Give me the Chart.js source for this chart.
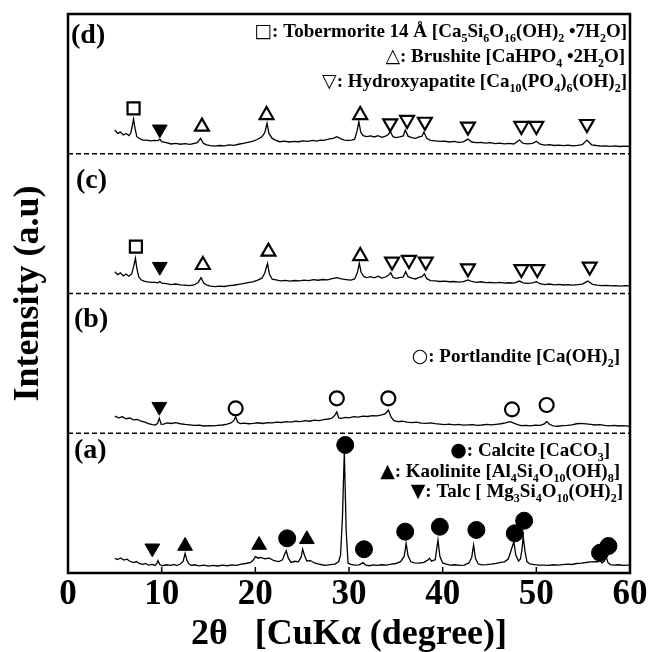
<!DOCTYPE html>
<html>
<head>
<meta charset="utf-8">
<script src="https://cdn.jsdelivr.net/npm/chart.js@4.4.1/dist/chart.umd.min.js"></script>
<style>
html, body { margin: 0; padding: 0; background: #fff; }
#wrap { width: 649px; height: 652px; }
</style>
</head>
<body>
<div id="wrap"><canvas id="xrd" width="649" height="652"></canvas></div>
<script>
// x axis ticks (2θ)
const xTicks = [0, 10, 20, 30, 40, 50, 60];
const panelNames = ['(a)', '(b)', '(c)', '(d)'];
const panelBase = [0, 100, 200, 300];   // each pattern is stacked 100 units above the previous
const separators = [100, 200, 300];

// patterns: [2θ, intensity inside its panel]
const traceA = [
  [5.0,10.5],[5.3,9.6],[5.6,10.8],[6.0,9.3],[6.3,9.9],[6.6,8.4],[7.0,7.4],[7.3,8.2],[7.6,6.8],[8.0,6.2],
  [8.3,6.9],[8.6,5.6],[9.0,6.1],[9.3,5.4],[9.5,7.0],[9.6,8.8],[9.8,6.0],[10.1,5.2],[10.5,5.9],[11.0,5.5],
  [11.3,6.2],[11.6,5.3],[12.0,6.4],[12.3,8.5],[12.5,14.1],[12.7,9.0],[12.9,6.6],[13.2,5.4],[13.5,5.9],[14.0,5.1],
  [14.5,5.6],[15.0,4.9],[15.5,5.4],[16.0,5.0],[16.5,5.6],[17.0,5.2],[17.5,5.8],[18.0,5.4],[18.5,6.3],[19.0,6.8],
  [19.5,7.6],[19.8,9.5],[20.0,11.7],[20.3,10.6],[20.6,11.2],[21.0,10.2],[21.5,10.6],[22.0,8.8],[22.5,8.2],[22.9,9.4],
  [23.1,13.0],[23.3,16.0],[23.5,11.0],[23.8,7.6],[24.2,8.4],[24.6,8.0],[24.9,11.5],[25.05,17.0],[25.25,12.5],[25.5,8.6],
  [25.9,8.9],[26.3,7.2],[26.7,6.5],[27.1,5.9],[27.5,5.5],[28.0,6.0],[28.5,6.4],[28.9,8.2],[29.1,12.9],[29.3,40.0],
  [29.5,86.8],[29.7,30.0],[29.9,7.0],[30.2,6.2],[30.6,5.6],[31.1,5.8],[31.5,7.4],[31.8,5.6],[32.2,5.2],[32.6,5.8],
  [33.0,5.4],[33.5,5.9],[34.0,5.6],[34.5,6.4],[35.0,6.8],[35.5,8.1],[35.9,12.0],[36.1,21.2],[36.3,12.5],[36.6,8.0],
  [37.0,7.2],[37.5,7.0],[38.0,7.6],[38.4,9.2],[38.6,10.5],[38.8,8.4],[39.2,9.5],[39.5,23.6],[39.7,12.0],[40.0,7.2],
  [40.4,6.3],[40.8,5.6],[41.3,5.9],[41.8,5.4],[42.3,5.7],[42.8,7.2],[43.1,11.0],[43.3,20.0],[43.5,10.5],[43.8,6.4],
  [44.2,5.8],[44.7,6.0],[45.2,6.4],[45.7,6.9],[46.2,7.6],[46.6,8.0],[47.0,10.0],[47.2,14.0],[47.6,22.4],[47.8,13.0],
  [48.1,8.5],[48.3,10.0],[48.45,16.0],[48.6,26.0],[48.8,15.0],[49.0,8.2],[49.3,6.5],[49.8,6.0],[50.3,5.6],[50.8,5.7],
  [51.3,5.4],[51.8,5.9],[52.3,5.6],[52.8,6.0],[53.3,6.4],[53.8,6.1],[54.3,6.8],[54.8,7.0],[55.3,7.5],[55.8,7.9],
  [56.3,8.2],[56.6,8.0],[56.8,9.3],[57.0,7.2],[57.25,8.6],[57.45,11.7],[57.65,7.4],[57.9,6.0],[58.3,5.6],[58.8,5.9],
  [59.3,5.4],[59.8,5.7],[60.0,5.6]
];
const traceB = [
  [5.0,12.3],[5.4,11.0],[5.8,11.8],[6.2,10.4],[6.6,10.9],[7.0,9.6],[7.4,9.9],[7.8,8.6],[8.2,8.0],[8.6,6.9],
  [9.0,6.2],[9.3,5.9],[9.55,7.0],[9.75,10.7],[9.95,6.4],[10.2,6.6],[10.6,7.4],[11.0,7.0],[11.5,7.6],[12.0,6.8],
  [12.5,6.3],[13.0,6.0],[13.5,5.6],[14.0,5.8],[14.5,5.2],[15.0,5.5],[15.5,5.3],[16.0,5.6],[16.5,5.9],[17.0,6.6],
  [17.4,7.4],[17.7,9.0],[17.9,11.9],[18.1,8.0],[18.4,6.9],[18.8,7.3],[19.3,6.8],[19.8,7.1],[20.3,7.5],[20.8,7.0],
  [21.3,7.6],[21.8,7.4],[22.3,8.0],[22.8,7.7],[23.3,8.3],[23.8,8.0],[24.3,8.6],[24.8,8.3],[25.3,9.0],[25.8,8.6],
  [26.3,9.4],[26.8,9.1],[27.3,9.8],[27.8,10.2],[28.2,10.9],[28.5,13.0],[28.7,15.3],[28.9,11.0],[29.2,10.6],[29.6,11.4],
  [30.0,11.0],[30.5,11.9],[31.0,11.5],[31.5,12.2],[32.0,12.0],[32.5,12.6],[33.0,12.4],[33.5,13.1],[33.9,14.0],[34.2,16.6],
  [34.5,11.5],[34.8,9.0],[35.2,8.3],[35.7,8.6],[36.2,7.9],[36.7,7.6],[37.2,7.9],[37.7,7.2],[38.2,7.0],[38.7,7.4],
  [39.2,6.9],[39.7,6.6],[40.2,6.2],[40.7,6.5],[41.2,6.0],[41.7,6.3],[42.2,5.8],[42.7,6.0],[43.2,6.2],[43.7,5.7],
  [44.2,5.9],[44.7,6.3],[45.2,6.0],[45.7,6.4],[46.2,6.8],[46.7,7.4],[47.2,8.3],[47.6,7.2],[48.0,6.2],[48.4,5.4],
  [48.9,5.6],[49.4,5.3],[49.9,5.8],[50.4,5.6],[50.8,6.5],[51.1,8.3],[51.4,6.4],[51.8,5.3],[52.3,5.0],[52.8,5.4],
  [53.3,5.6],[53.8,6.0],[54.3,6.8],[54.8,7.1],[55.3,6.7],[55.8,6.3],[56.3,5.9],[56.8,6.2],[57.3,5.6],[57.8,5.3],
  [58.3,5.6],[58.8,5.2],[59.3,5.5],[59.8,5.1],[60.0,5.3]
];
const traceC = [
  [5.0,15.6],[5.3,13.5],[5.6,14.8],[5.9,12.6],[6.2,13.9],[6.5,12.4],[6.8,14.0],[7.0,19.0],[7.2,25.2],[7.35,18.0],
  [7.55,12.0],[7.8,9.8],[8.1,8.9],[8.5,8.3],[8.9,8.0],[9.3,7.9],[9.6,7.6],[9.8,8.6],[10.0,7.4],[10.5,7.0],
  [11.0,6.4],[11.5,6.8],[12.0,6.2],[12.5,6.0],[13.0,5.7],[13.5,6.3],[13.9,7.8],[14.2,11.3],[14.5,7.5],[14.8,6.1],
  [15.2,5.3],[15.7,4.9],[16.2,5.3],[16.7,5.0],[17.2,5.6],[17.7,5.9],[18.2,6.6],[18.7,7.0],[19.2,7.8],[19.7,8.3],
  [20.2,9.4],[20.7,11.0],[21.0,14.5],[21.3,21.6],[21.5,14.0],[21.8,10.2],[22.2,9.7],[22.7,9.0],[23.2,9.4],[23.7,8.8],
  [24.2,9.3],[24.7,9.1],[25.2,9.6],[25.7,9.2],[26.2,9.9],[26.7,9.5],[27.2,10.0],[27.7,9.7],[28.2,10.6],[28.7,11.3],
  [29.2,10.4],[29.7,10.0],[30.2,9.6],[30.6,10.4],[30.9,15.0],[31.1,21.6],[31.3,15.0],[31.6,12.0],[31.9,11.4],[32.3,12.0],
  [32.7,11.2],[33.1,12.4],[33.5,11.0],[33.9,11.8],[34.2,13.0],[34.45,14.9],[34.7,11.6],[35.0,10.8],[35.4,11.4],[35.8,11.8],
  [36.05,15.6],[36.3,12.0],[36.7,11.0],[37.1,10.4],[37.5,11.6],[37.8,12.0],[38.05,14.0],[38.3,10.6],[38.7,9.2],[39.2,9.0],
  [39.7,8.6],[40.2,8.8],[40.7,8.4],[41.2,8.6],[41.7,8.2],[42.2,8.5],[42.7,9.7],[43.1,8.6],[43.6,8.0],[44.1,8.4],
  [44.6,7.8],[45.1,8.0],[45.6,7.6],[46.1,7.9],[46.6,7.4],[47.1,7.7],[47.6,7.4],[48.2,8.9],[48.6,7.6],[49.1,7.3],
  [49.6,7.6],[50.0,8.5],[50.4,7.0],[50.9,6.4],[51.4,6.8],[51.9,6.2],[52.4,6.5],[52.9,6.1],[53.4,6.3],[53.9,6.0],
  [54.4,6.3],[54.9,6.7],[55.5,8.9],[56.0,6.6],[56.5,6.0],[57.0,5.6],[57.5,5.8],[58.0,5.4],[58.5,5.7],[59.0,5.3],
  [59.5,5.6],[60.0,5.4]
];
const traceD = [
  [5.0,17.0],[5.3,14.6],[5.6,15.5],[5.9,13.4],[6.2,14.5],[6.5,13.0],[6.7,14.8],[6.85,19.5],[7.0,24.9],[7.15,18.4],
  [7.35,12.2],[7.7,10.6],[8.0,9.8],[8.4,9.8],[8.8,9.2],[9.2,9.6],[9.6,9.4],[9.8,10.4],[10.0,8.6],[10.5,7.9],
  [11.0,7.0],[11.5,7.4],[12.0,6.8],[12.5,7.2],[13.0,6.7],[13.4,7.3],[13.8,7.9],[14.15,11.0],[14.45,7.5],[14.8,6.3],
  [15.2,5.8],[15.7,5.5],[16.2,5.9],[16.7,5.6],[17.2,6.3],[17.7,6.0],[18.2,6.8],[18.7,7.4],[19.2,8.2],[19.7,8.8],
  [20.2,10.2],[20.7,12.2],[21.0,15.0],[21.25,21.8],[21.45,14.5],[21.8,11.0],[22.2,9.6],[22.6,8.6],[23.1,9.0],[23.6,8.4],
  [24.1,8.9],[24.6,8.6],[25.1,9.2],[25.6,8.8],[26.1,9.5],[26.6,9.1],[26.9,9.8],[27.3,9.6],[27.8,10.4],[28.3,11.0],
  [28.7,12.2],[29.1,10.8],[29.5,9.8],[29.9,9.6],[30.3,9.8],[30.6,10.4],[30.85,16.0],[31.05,23.0],[31.25,15.5],[31.5,13.0],
  [31.9,12.2],[32.3,12.8],[32.7,12.0],[33.1,12.9],[33.5,11.8],[33.9,12.6],[34.2,13.8],[34.4,16.0],[34.7,12.2],[35.0,11.6],
  [35.4,12.1],[35.8,12.8],[36.0,17.0],[36.3,12.6],[36.7,11.5],[37.1,11.0],[37.5,12.0],[37.8,12.6],[38.0,15.5],[38.3,11.0],
  [38.7,9.6],[39.2,9.2],[39.7,8.8],[40.2,9.0],[40.7,8.4],[41.2,8.8],[41.7,8.1],[42.2,8.5],[42.7,10.5],[43.1,8.4],
  [43.6,7.9],[44.1,8.2],[44.6,7.6],[45.1,7.9],[45.6,7.3],[46.1,7.6],[46.6,7.1],[47.1,7.4],[47.6,7.0],[48.2,9.8],
  [48.6,7.4],[49.1,7.0],[49.6,7.4],[50.0,9.0],[50.4,6.8],[50.9,6.2],[51.4,6.5],[51.9,5.9],[52.4,6.2],[52.9,5.8],
  [53.4,6.1],[53.9,5.7],[54.4,6.0],[54.9,6.5],[55.4,9.8],[55.9,6.4],[56.4,5.9],[56.9,5.5],[57.4,5.7],[57.9,5.3],
  [58.4,5.6],[58.9,5.2],[59.4,5.5],[60.0,5.3]
];

// phase markers: [2θ, panel index (0=a .. 3=d), height inside panel]
const tobermoriteMarks = [[7.0,3,32.5],[7.25,2,33.5]];
const brushiteMarks = [[14.3,3,19.4],[21.2,3,27.7],[31.2,3,27.7],[14.4,2,20.4],[21.4,2,29.9],[31.2,2,26.8]];
const hapMarks = [
  [34.4,3,21.8],[36.2,3,24.2],[38.1,3,22.9],[42.7,3,19.4],[48.4,3,19.9],[50.0,3,19.9],[55.4,3,21.3],
  [34.6,2,22.8],[36.4,2,24.0],[38.2,2,22.8],[42.7,2,18.0],[48.4,2,17.5],[50.1,2,17.5],[55.7,2,19.2]
];
const portlanditeMarks = [[17.9,1,17.8],[28.7,1,25.0],[34.2,1,25.0],[47.4,1,17.1],[51.1,1,20.2]];
const talcMarks = [[9.8,3,17.5],[9.8,2,19.2],[9.75,1,19.0],[9.0,0,17.7]];
const kaoliniteMarks = [[12.5,0,19.3],[20.4,0,20.0],[25.5,0,24.1]];
const calciteMarks = [
  [23.4,0,24.8],[29.6,0,91.6],[31.6,0,17.0],[36.0,0,29.6],[39.7,0,33.1],
  [43.6,0,30.8],[47.7,0,28.4],[48.7,0,37.4],[56.8,0,14.5],[57.7,0,19.3]
];

const legendD = ['□: Tobermorite 14 Å [Ca_5Si_6O_16(OH)_2 •7H_2O]', '△: Brushite [CaHPO_4 •2H_2O]', '▽: Hydroxyapatite [Ca_10(PO_4)_6(OH)_2]'];
const legendB = ['○: Portlandite [Ca(OH)_2]'];
const legendA = ['●: Calcite [CaCO_3]', '▲: Kaolinite [Al_4Si_4O_10(OH)_8]', '▼: Talc [ Mg_3Si_4O_10(OH)_2]'];

const SERIF = '"Liberation Serif", "Times New Roman", serif';

function traceData(points, panel) {
    return points.map(p => ({x: p[0], y: panelBase[panel] + p[1]}));
}
function markData(marks) {
    return marks.map(m => ({x: m[0], y: panelBase[m[1]] + m[2]}));
}

function traceSet(points, panel) {
    return {
        data: traceData(points, panel), showLine: true, borderColor: '#000', borderWidth: 1.3,
        pointRadius: 0, tension: 0, order: 2
    };
}
function markSet(marks, style, filled, radius, rotation) {
    return {
        data: markData(marks), showLine: false, pointStyle: style, pointRadius: radius,
        pointRotation: rotation || 0, pointBorderColor: '#000', pointBorderWidth: filled ? 1 : 2.2,
        pointBackgroundColor: filled ? '#000' : '#fff', order: 0
    };
}

const datasets = [];
separators.forEach(v => {
    datasets.push({
        data: [{x: 0, y: v}, {x: 60, y: v}], showLine: true, borderColor: '#000',
        borderWidth: 1.5, borderDash: [5, 3], pointRadius: 0, order: 3
    });
});
[traceA, traceB, traceC, traceD].forEach((t, i) => datasets.push(traceSet(t, i)));
datasets.push(markSet(tobermoriteMarks, 'rect', false, 8.5));
datasets.push(markSet(brushiteMarks, 'triangle', false, 8));
datasets.push(markSet(hapMarks, 'triangle', false, 8, 180));
datasets.push(markSet(portlanditeMarks, 'circle', false, 7));
datasets.push(markSet(talcMarks, 'triangle', true, 8.5, 180));
datasets.push(markSet(kaoliniteMarks, 'triangle', true, 8.5));
datasets.push(markSet(calciteMarks, 'circle', true, 8.5));

// text with a leading symbol glyph and _n subscripts, right aligned
function drawFormula(ctx, str, right, baseline) {
    const parts = [{t: str[0], k: 'sym'}];
    str.slice(1).split(/(_\d+)/).forEach(s => {
        if (!s) return;
        if (s[0] === '_') parts.push({t: s.slice(1), k: 'sub'});
        else parts.push({t: s, k: 'txt'});
    });
    const fonts = {
        sym: 'bold 19px "DejaVu Sans"',
        txt: 'bold 19px ' + SERIF,
        sub: 'bold 12px ' + SERIF
    };
    let total = 0;
    parts.forEach(p => { ctx.font = fonts[p.k]; p.w = ctx.measureText(p.t).width; total += p.w; });
    let x = right - total;
    ctx.textAlign = 'left';
    ctx.textBaseline = 'alphabetic';
    parts.forEach(p => {
        ctx.font = fonts[p.k];
        ctx.fillText(p.t, x, baseline + (p.k === 'sub' ? 5 : 0));
        x += p.w;
    });
}

const decorPlugin = {
    id: 'decor',
    afterDraw(chart) {
        const {ctx, chartArea: a, scales: {x}} = chart;
        ctx.save();
        ctx.fillStyle = '#000';
        ctx.strokeStyle = '#000';

        // frame
        ctx.lineWidth = 2.5;
        ctx.strokeRect(a.left, a.top, a.right - a.left, a.bottom - a.top);

        // inner tick marks on the bottom edge
        ctx.lineWidth = 1.5;
        xTicks.slice(1, -1).forEach(v => {
            const px = x.getPixelForValue(v);
            ctx.beginPath();
            ctx.moveTo(px, a.bottom);
            ctx.lineTo(px, a.bottom - 6);
            ctx.stroke();
        });

        // panel labels
        ctx.font = 'bold 28px ' + SERIF;
        ctx.textAlign = 'left';
        ctx.textBaseline = 'alphabetic';
        const labelPos = [[74, 458], [74, 327], [76, 188], [71, 43]];
        panelNames.forEach((n, i) => ctx.fillText(n, labelPos[i][0], labelPos[i][1]));

        // phase legends
        drawFormula(ctx, legendD[0], 627, 37);
        drawFormula(ctx, legendD[1], 625, 62);
        drawFormula(ctx, legendD[2], 627, 87);
        drawFormula(ctx, legendB[0], 620, 362);
        drawFormula(ctx, legendA[0], 610, 456);
        drawFormula(ctx, legendA[1], 620, 477);
        drawFormula(ctx, legendA[2], 623, 497);

        // y axis title
        ctx.font = 'bold 36px ' + SERIF;
        ctx.textAlign = 'center';
        ctx.textBaseline = 'middle';
        ctx.translate(29, (a.top + a.bottom) / 2);
        ctx.rotate(-Math.PI / 2);
        ctx.fillText('Intensity (a.u)', 0, 0);
        ctx.restore();
    }
};

new Chart(document.getElementById('xrd'), {
    type: 'scatter',
    data: { datasets },
    plugins: [decorPlugin],
    options: {
        responsive: false,
        animation: false,
        events: [],
        layout: { padding: { left: 68, right: 19, top: 14, bottom: 0 } },
        plugins: { legend: { display: false }, tooltip: { enabled: false } },
        scales: {
            x: {
                type: 'linear', min: 0, max: 60, position: 'bottom',
                afterBuildTicks: axis => { axis.ticks = xTicks.map(v => ({value: v})); },
                afterFit: axis => { axis.height = 79; },
                grid: { display: false, drawTicks: false },
                border: { display: false },
                ticks: {
                    color: '#000', padding: 1, maxRotation: 0, autoSkip: false,
                    font: { family: SERIF, size: 35, weight: 'bold', lineHeight: 1.2 }
                },
                title: {
                    display: true, text: '2θ   [CuKα (degree)]', color: '#000',
                    font: { family: SERIF, size: 36, weight: 'bold', lineHeight: 0.9 },
                    padding: { top: 0, bottom: 1 }
                }
            },
            y: { type: 'linear', min: 0, max: 400, display: false }
        }
    }
});
</script>
</body>
</html>
